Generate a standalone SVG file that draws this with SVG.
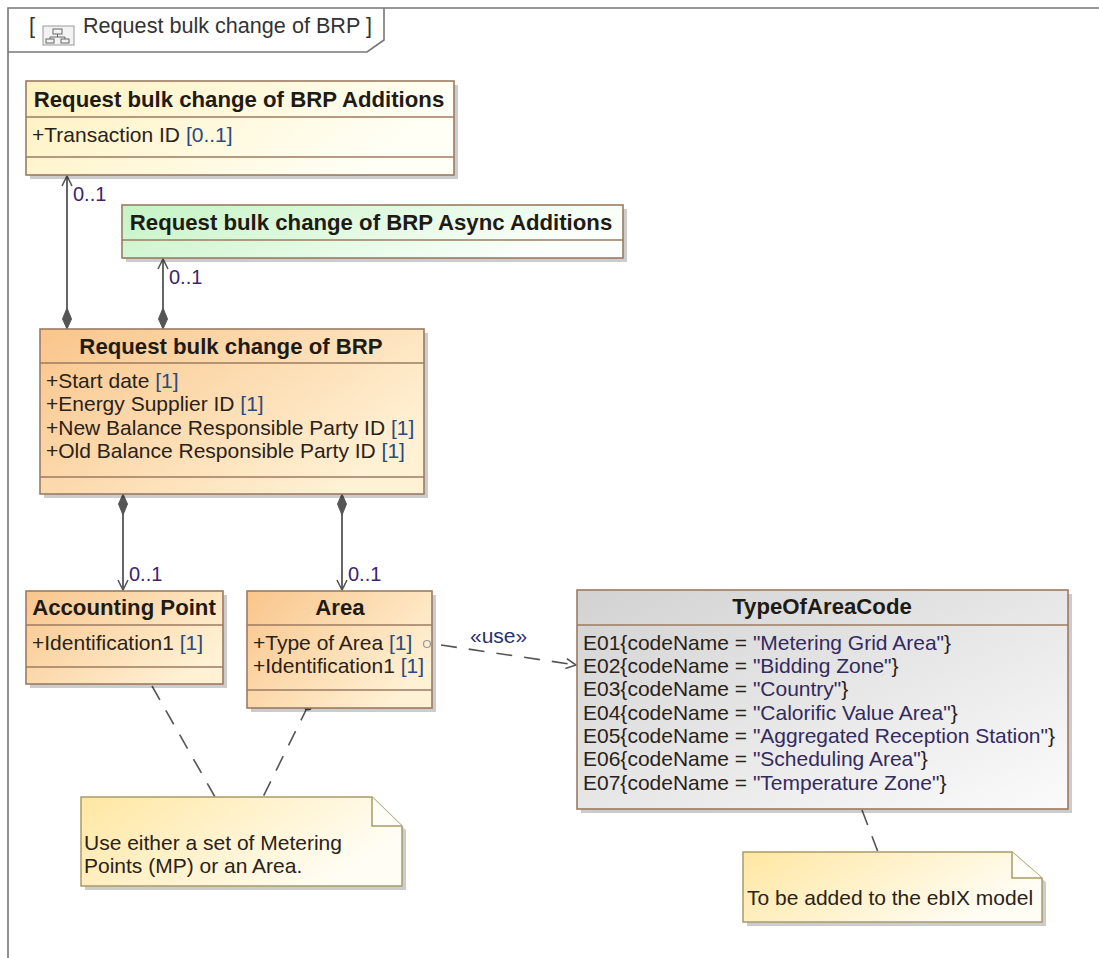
<svg xmlns="http://www.w3.org/2000/svg" width="1099" height="958" viewBox="0 0 1099 958">
<style>
.t{font-family:"Liberation Sans",Arial,sans-serif;font-size:21px;fill:#2a2218}
.b{font-family:"Liberation Sans",Arial,sans-serif;font-size:22.2px;font-weight:bold;fill:#1e1a14}
.m{fill:#2b4a7e}
.ml{font-family:"Liberation Sans",Arial,sans-serif;font-size:20px;fill:#3b2470}
.box{stroke:#9c7b62;stroke-width:1.6}
.sep{stroke:#9c7b62;stroke-width:1.4;fill:none}
.sh{fill:#000;opacity:.2}
.ln{stroke:#555;stroke-width:1.8;fill:none}
.dash{stroke:#555;stroke-width:1.6;fill:none;stroke-dasharray:16 12}
.note{stroke:#a89c6a;stroke-width:1.5}
</style>
<defs>
<linearGradient id="gY" x1="0" y1="0" x2="1" y2="0.3"><stop offset="0" stop-color="#fff1bf"/><stop offset="1" stop-color="#fffff6"/></linearGradient>
<linearGradient id="gG" x1="0" y1="0" x2="1" y2="0.3"><stop offset="0" stop-color="#c4f3c4"/><stop offset="1" stop-color="#fbfffb"/></linearGradient>
<linearGradient id="gO" x1="0" y1="0" x2="1" y2="0.6"><stop offset="0" stop-color="#f9c58b"/><stop offset="1" stop-color="#fff1d4"/></linearGradient>
<linearGradient id="gGr" x1="0" y1="0" x2="1" y2="1"><stop offset="0" stop-color="#d2d2d2"/><stop offset="1" stop-color="#fbfbfb"/></linearGradient>
<linearGradient id="gN" x1="0" y1="0" x2="1" y2="0.4"><stop offset="0" stop-color="#ffe7a2"/><stop offset="1" stop-color="#fffdf4"/></linearGradient>
<marker id="open" markerWidth="14" markerHeight="14" refX="11" refY="6" orient="auto" markerUnits="userSpaceOnUse"><path d="M1,1 L11,6 L1,11" fill="none" stroke="#555" stroke-width="1.6"/></marker>
<marker id="dia" markerWidth="24" markerHeight="12" refX="1" refY="6" orient="auto" markerUnits="userSpaceOnUse"><path d="M1,6 L11,1.5 L22,6 L11,10.5 Z" fill="#555" stroke="#555" stroke-width="1"/></marker>
</defs>
<rect width="1099" height="958" fill="#fff"/>

<g id="frame">
<path d="M8,958 V8 H1099" fill="none" stroke="#777" stroke-width="1.6"/>
<path d="M8,52 H367 L384,40 V8" fill="none" stroke="#777" stroke-width="1.6"/>
<text x="29" y="33" class="t" style="fill:#333;font-size:21.6px">[</text>
<rect x="43" y="26" width="31" height="19" fill="#f3f3f3" stroke="#999" stroke-width="1"/>
<rect x="53" y="29" width="9" height="5" fill="none" stroke="#666" stroke-width="1"/>
<path d="M57.5,34 V37 M50,37 H65 M50,37 V39 M65,37 V39" fill="none" stroke="#666" stroke-width="1"/>
<rect x="46" y="39" width="8" height="4" fill="none" stroke="#666" stroke-width="1"/>
<rect x="61" y="39" width="8" height="4" fill="none" stroke="#666" stroke-width="1"/>
<text x="83" y="33" class="t" style="fill:#333;font-size:21.6px">Request bulk change of BRP ]</text>
</g>

<g id="connectors">
<line x1="67" y1="329" x2="67" y2="176" class="ln" marker-start="url(#dia)" marker-end="url(#open)"/>
<text x="73" y="201" class="ml">0..1</text>
<line x1="163" y1="329" x2="163" y2="259" class="ln" marker-start="url(#dia)" marker-end="url(#open)"/>
<text x="169" y="284" class="ml">0..1</text>
<line x1="123" y1="494" x2="123" y2="590" class="ln" marker-start="url(#dia)" marker-end="url(#open)"/>
<text x="129" y="581" class="ml">0..1</text>
<line x1="342" y1="494" x2="342" y2="590" class="ln" marker-start="url(#dia)" marker-end="url(#open)"/>
<text x="348" y="581" class="ml">0..1</text>
<line x1="441" y1="645" x2="576" y2="665" class="dash" marker-end="url(#open)"/>
<text x="470" y="643" class="ml" style="font-size:21px;fill:#2a2f72">«use»</text>
<line x1="152" y1="686" x2="215" y2="797" class="dash"/>
<line x1="308" y1="706" x2="263" y2="797" class="dash"/>
<circle cx="308" cy="706" r="4.5" fill="#444"/>
<line x1="862" y1="810" x2="878" y2="852" class="dash"/>
</g>

<g id="additions">
<rect x="30" y="85" width="428" height="94" class="sh"/>
<rect x="26" y="81" width="428" height="94" fill="url(#gY)" class="box"/>
<line x1="26" y1="117" x2="454" y2="117" class="sep"/>
<line x1="26" y1="157" x2="454" y2="157" class="sep"/>
<text x="239" y="107" class="b" text-anchor="middle">Request bulk change of BRP Additions</text>
<text x="32" y="142" class="t">+Transaction ID <tspan class="m">[0..1]</tspan></text>
</g>

<g id="async">
<rect x="126" y="209" width="501" height="53" class="sh"/>
<rect x="122" y="205" width="501" height="53" fill="url(#gG)" class="box"/>
<line x1="122" y1="240" x2="623" y2="240" class="sep"/>
<text x="371" y="230" class="b" text-anchor="middle">Request bulk change of BRP Async Additions</text>
</g>

<g id="brp">
<rect x="44" y="333" width="384" height="165" class="sh"/>
<rect x="40" y="329" width="384" height="165" fill="url(#gO)" class="box"/>
<line x1="40" y1="363" x2="424" y2="363" class="sep"/>
<line x1="40" y1="477" x2="424" y2="477" class="sep"/>
<text x="231" y="354" class="b" text-anchor="middle">Request bulk change of BRP</text>
<text x="46" y="388" class="t">+Start date <tspan class="m">[1]</tspan></text>
<text x="46" y="411" class="t">+Energy Supplier ID <tspan class="m">[1]</tspan></text>
<text x="46" y="435" class="t">+New Balance Responsible Party ID <tspan class="m">[1]</tspan></text>
<text x="46" y="458" class="t">+Old Balance Responsible Party ID <tspan class="m">[1]</tspan></text>
</g>

<g id="accountingpoint">
<rect x="30" y="595" width="197" height="93" class="sh"/>
<rect x="26" y="591" width="197" height="93" fill="url(#gO)" class="box"/>
<line x1="26" y1="625" x2="223" y2="625" class="sep"/>
<line x1="26" y1="667" x2="223" y2="667" class="sep"/>
<text x="124" y="615" class="b" text-anchor="middle">Accounting Point</text>
<text x="32" y="650" class="t">+Identification1 <tspan class="m">[1]</tspan></text>
</g>

<g id="area">
<rect x="251" y="595" width="185" height="117" class="sh"/>
<rect x="247" y="591" width="185" height="117" fill="url(#gO)" class="box"/>
<line x1="247" y1="625" x2="432" y2="625" class="sep"/>
<line x1="247" y1="690" x2="432" y2="690" class="sep"/>
<text x="340" y="615" class="b" text-anchor="middle">Area</text>
<text x="253" y="650" class="t">+Type of Area <tspan class="m">[1]</tspan></text>
<circle cx="427" cy="644" r="3.5" fill="none" stroke="#999" stroke-width="1.2"/>
<text x="253" y="673" class="t">+Identification1 <tspan class="m">[1]</tspan></text>
</g>

<g id="typeofareacode">
<rect x="581" y="594" width="491" height="219" class="sh"/>
<rect x="577" y="590" width="491" height="219" fill="url(#gGr)" class="box"/>
<line x1="577" y1="625" x2="1068" y2="625" class="sep"/>
<text x="822" y="614" class="b" text-anchor="middle">TypeOfAreaCode</text>
<text x="583" y="650" class="t">E01{codeName = <tspan fill="#332a5e">"Metering Grid Area"</tspan>}</text>
<text x="583" y="673" class="t">E02{codeName = <tspan fill="#332a5e">"Bidding Zone"</tspan>}</text>
<text x="583" y="696" class="t">E03{codeName = <tspan fill="#332a5e">"Country"</tspan>}</text>
<text x="583" y="720" class="t">E04{codeName = <tspan fill="#332a5e">"Calorific Value Area"</tspan>}</text>
<text x="583" y="743" class="t">E05{codeName = <tspan fill="#332a5e">"Aggregated Reception Station"</tspan>}</text>
<text x="583" y="766" class="t">E06{codeName = <tspan fill="#332a5e">"Scheduling Area"</tspan>}</text>
<text x="583" y="790" class="t">E07{codeName = <tspan fill="#332a5e">"Temperature Zone"</tspan>}</text>
</g>

<g id="note1">
<path d="M85,801 H376 L406,830 V890 H85 Z" class="sh"/>
<path d="M81,797 H372 L402,826 V886 H81 Z" fill="url(#gN)" class="note"/>
<path d="M372,797 V826 H402" fill="#fffdf5" class="note"/>
<text x="84" y="850" class="t">Use either a set of Metering</text>
<text x="84" y="873" class="t">Points (MP) or an Area.</text>
</g>

<g id="note2">
<path d="M747,856 H1016 L1046,882 V926 H747 Z" class="sh"/>
<path d="M743,852 H1012 L1042,878 V922 H743 Z" fill="url(#gN)" class="note"/>
<path d="M1012,852 V878 H1042" fill="#fffdf5" class="note"/>
<text x="747" y="905" class="t">To be added to the ebIX model</text>
</g>
</svg>
